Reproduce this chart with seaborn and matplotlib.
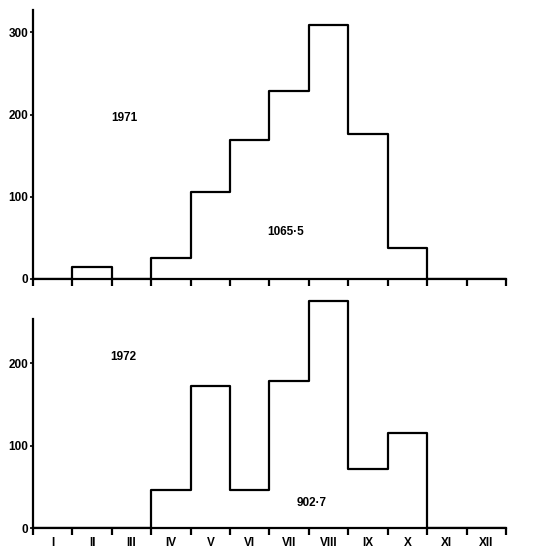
import numpy as np
import pandas as pd
import matplotlib
matplotlib.use("Agg")
import matplotlib.pyplot as plt
import seaborn as sns

# Monthly rainfall (mm)
months = ["I", "II", "III", "IV", "V", "VI", "VII", "VIII", "IX", "X", "XI", "XII"]
rain_1971 = [0, 14, 0, 25, 105.5, 169, 229, 309, 176, 38, 0, 0]
rain_1972 = [0, 0, 0, 47, 173, 46, 179, 275, 72, 115, 0, 0]
total_1971 = "1065·5"
total_1972 = "902·7"

sns.set_style("ticks")
plt.rcParams["font.family"] = ["Liberation Sans", "DejaVu Sans"]
plt.rcParams["font.size"] = 8.5
plt.rcParams["text.color"] = "black"
plt.rcParams["xtick.color"] = "black"
plt.rcParams["ytick.color"] = "black"
plt.rcParams["axes.edgecolor"] = "black"

fig = plt.figure(figsize=(5.5, 5.59), dpi=100)
ax1 = fig.add_axes([0.06, 0.5009, 0.86, 0.481])
ax2 = fig.add_axes([0.06, 0.0549, 0.86, 0.412])

centers = np.arange(12) + 0.5
edges = np.arange(13)

def draw(ax, values, ymax, spine_top, yticks):
    df = pd.DataFrame({"month": centers, "rain": values})
    sns.histplot(data=df, x="month", weights="rain", binwidth=1, binrange=(0, 12),
                 element="step", fill=False, color="black", linewidth=1.6, ax=ax)
    ax.set_xlim(0, 12)
    ax.set_ylim(0, ymax)
    ax.set_xlabel("")
    ax.set_ylabel("")
    for s in ["top", "right"]:
        ax.spines[s].set_visible(False)
    for s in ["left", "bottom"]:
        ax.spines[s].set_linewidth(1.6)
    ax.spines["left"].set_bounds(0, spine_top)
    ax.set_yticks(yticks)
    ax.set_yticklabels([str(t) for t in yticks], fontweight="bold")
    ax.set_xticks(edges)
    ax.set_xticklabels([])
    ax.tick_params(axis="x", length=5, width=1.6, direction="out")
    ax.tick_params(axis="y", length=2.5, width=1.2, pad=1)
    ax.patch.set_visible(False)

draw(ax1, rain_1971, 327, 327, [0, 100, 200, 300])
draw(ax2, rain_1972, 279, 253, [0, 100, 200])

ax2.set_xticks(centers, minor=True)
ax2.set_xticklabels(months, minor=True, fontweight="bold")
ax2.tick_params(axis="x", which="minor", length=0, pad=6)

ax1.text(2.33, 196, "1971", ha="center", va="center", fontweight="bold")
ax1.text(6.41, 57, total_1971, ha="center", va="center", fontweight="bold")
ax2.text(2.28, 207, "1972", ha="center", va="center", fontweight="bold")
ax2.text(7.06, 31, total_1972, ha="center", va="center", fontweight="bold")

fig.savefig("out.png", dpi=100)
